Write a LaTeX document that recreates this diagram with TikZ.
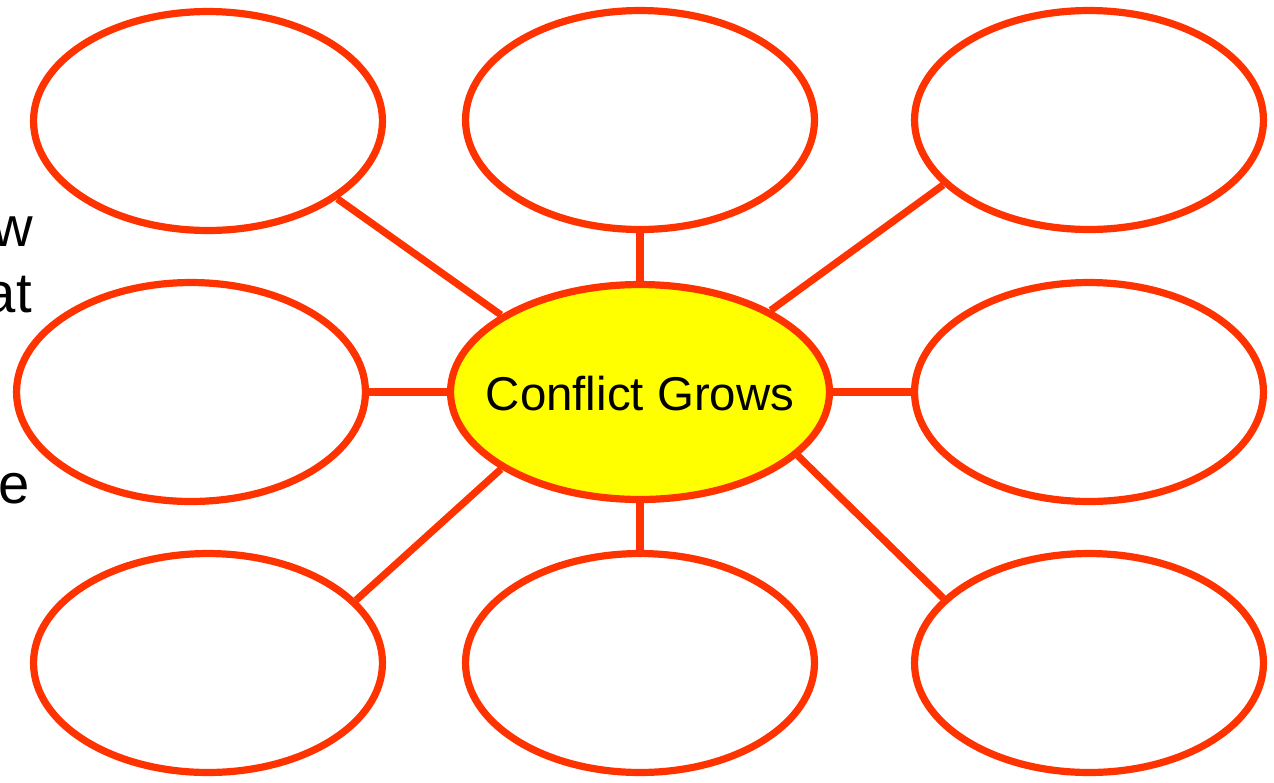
\documentclass[tikz,border=0pt]{standalone}
\usepackage{fontspec}
\setmainfont{Liberation Sans}
\usetikzlibrary{shapes.geometric}
\definecolor{rim}{HTML}{FF3300}
\definecolor{sun}{HTML}{FFFF00}
\tikzset{
  bubble/.style={ellipse, draw=rim, line width=4.1pt, inner sep=0pt, minimum width=6.98cm, minimum height=4.38cm},
  hub/.style={ellipse, draw=rim, fill=sun, line width=4.1pt, inner sep=0pt, minimum width=7.58cm, minimum height=4.30cm},
  hubtext/.style={font=\fontsize{27}{32}\selectfont, inner sep=0pt},
  link/.style={draw=rim, line width=4.1pt},
  frag/.style={anchor=base east, inner sep=0pt, font=\fontsize{32}{38}\selectfont}
}
\begin{document}
\begin{tikzpicture}[x=0.02cm, y=-0.02cm]
\useasboundingbox (0,0) rectangle (1274,782);
\node[bubble] (tl) at (208,121) {};
\node[bubble] (tm) at (640,120) {};
\node[bubble] (tr) at (1089,120) {};
\node[bubble] (ml) at (191,392) {};
\node[hub, label={[hubtext, yshift=-0.04cm]center:Conflict Grows}] (c) at (640,392) {};
\node[bubble] (mr) at (1089,392) {};
\node[bubble] (bl) at (208,663) {};
\node[bubble] (bm) at (640,663) {};
\node[bubble] (br) at (1089,663) {};
\draw[link] (tl.-31) -- (c.151);
\draw[link] (tm.south) -- (c.north);
\draw[link] (tr.204) -- (c.32);
\draw[link] (ml.east) -- (c.west);
\draw[link] (c.east) -- (mr.west);
\draw[link] (bl.23) -- (c.209);
\draw[link] (c.south) -- (bm.north);
\draw[link] (br.156) -- (c.-22);
\node[frag] (f1) at (33,246) {w};
\node[frag] (f2) at (32,312) {at};
\node[frag] (f3) at (30,503) {e};
\end{tikzpicture}
\end{document}
